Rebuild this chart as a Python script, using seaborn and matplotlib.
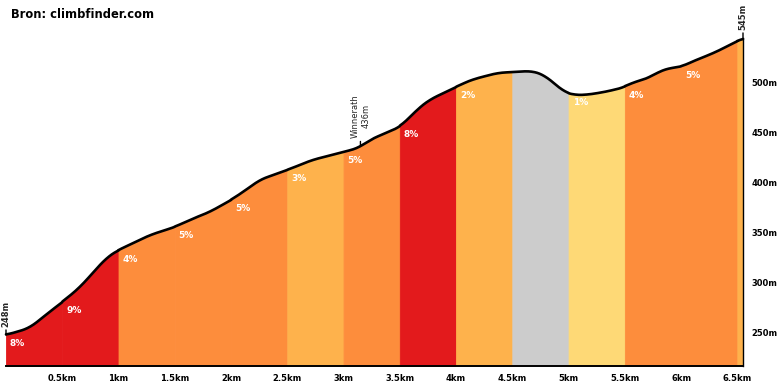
import numpy as np
import matplotlib
matplotlib.use("Agg")
import matplotlib.pyplot as plt
import seaborn as sns

########################################
# data
########################################
# elevation profile (km, m)
dist_km = [0.00, 0.21, 0.33, 0.50, 0.66, 0.77, 0.90, 1.00, 1.28, 1.50,
           1.63, 1.81, 2.00, 2.17, 2.25, 2.50, 2.72, 3.00, 3.10, 3.15,
           3.23, 3.50, 3.67, 3.76, 4.00, 4.07, 4.16, 4.30, 4.36, 4.50,
           4.65, 4.71, 4.78, 4.87, 4.96, 5.05, 5.14, 5.27, 5.40, 5.50,
           5.57, 5.67, 5.80, 5.89, 6.00, 6.07, 6.20, 6.29, 6.38, 6.50, 6.55]
elev_m = [248, 255, 266, 281, 296, 310, 326, 333, 348, 356,
          363, 371, 383, 396, 403, 413, 423, 431, 434, 436,
          443, 456, 475, 483, 496, 500, 504, 508, 510, 511,
          512, 511, 508, 500, 491, 488, 488, 490, 493, 496,
          501, 503, 511, 515, 516, 520, 526, 530, 535, 542, 545]

# half-km segments
seg_start = [0.0, 0.5, 1.0, 1.5, 2.0, 2.5, 3.0, 3.5, 4.0, 4.5, 5.0, 5.5, 6.0, 6.5]
seg_end = [0.5, 1.0, 1.5, 2.0, 2.5, 3.0, 3.5, 4.0, 4.5, 5.0, 5.5, 6.0, 6.5, 6.55]
seg_grade = ["8%", "9%", "4%", "5%", "5%", "3%", "5%", "8%", "2%", "", "1%", "4%", "5%", ""]
seg_color = ["#E31A1C", "#E31A1C", "#FD8D3C", "#FD8D3C", "#FD8D3C", "#FEB24C", "#FD8D3C",
             "#E31A1C", "#FEB24C", "#CCCCCC", "#FED976", "#FD8D3C", "#FD8D3C", "#FEB24C"]

xtick_vals = [0.5, 1, 1.5, 2, 2.5, 3, 3.5, 4, 4.5, 5, 5.5, 6, 6.5]
xtick_labels = ["0.5km", "1km", "1.5km", "2km", "2.5km", "3km", "3.5km",
                "4km", "4.5km", "5km", "5.5km", "6km", "6.5km"]
ytick_vals = [250, 300, 350, 400, 450, 500]
ytick_labels = ["250m", "300m", "350m", "400m", "450m", "500m"]

waypoint_km = 3.15
waypoint_label = "Winnerath\n436m"
start_label = "248m"
end_label = "545m"
title = "Bron: climbfinder.com"

y_bottom = 217

########################################
# dense, lightly smoothed profile
########################################
x = np.union1d(np.linspace(0, dist_km[-1], 1200), seg_start + seg_end)
y = np.interp(x, dist_km, elev_m)
k = 13
pad = np.pad(y, k, mode="edge")
y = np.convolve(pad, np.ones(2 * k + 1) / (2 * k + 1), mode="same")[k:-k]

sns.set_style("white")
plt.rcParams["font.family"] = ["DejaVu Sans"]

fig = plt.figure(figsize=(7.8, 3.9), dpi=100)
ax = fig.add_axes([6 / 780, 1 - 366 / 390, 737 / 780, 328 / 390])

# coloured segments
for s, e, g, c in zip(seg_start, seg_end, seg_grade, seg_color):
    m = (x >= s) & (x <= e)
    ax.fill_between(x[m], y_bottom, y[m], facecolor=c, edgecolor=c, lw=0.6)
    if g:
        ys = np.interp(s, x, y)
        ax.text(s + 0.035, ys - 9, g, color="white", fontsize=6.5,
                fontweight="bold", ha="left", va="center")

# profile line
sns.lineplot(x=x, y=y, color="black", lw=1.9, ax=ax, sort=False)
ax.lines[-1].set_clip_on(False)

# point labels
ann = dict(textcoords="offset points", rotation=90, ha="center", va="bottom",
           fontsize=6, fontweight="bold",
           arrowprops=dict(arrowstyle="-", lw=1, color="black", shrinkA=0, shrinkB=0))
ax.annotate(start_label, xy=(dist_km[0], elev_m[0]), xytext=(0, 6), **ann)
ax.annotate(end_label, xy=(dist_km[-1], elev_m[-1]), xytext=(0, 6), **ann)
ann["fontweight"] = "medium"
ann["multialignment"] = "center"
ax.annotate(waypoint_label, xy=(waypoint_km, np.interp(waypoint_km, x, y) + 1),
            xytext=(0, 5), **ann)

ax.set_xlim(0, dist_km[-1])
ax.set_ylim(y_bottom, elev_m[-1])
ax.set_xticks(xtick_vals)
ax.set_xticklabels(xtick_labels)
ax.yaxis.tick_right()
ax.set_yticks(ytick_vals)
ax.set_yticklabels(ytick_labels)
ax.tick_params(axis="both", length=4, width=1, color="black", labelsize=6,
               labelcolor="black", pad=2)
for lab in ax.get_xticklabels() + ax.get_yticklabels():
    lab.set_fontweight("bold")

sns.despine(ax=ax, left=True, top=True, right=False, bottom=False)
ax.spines["right"].set_color("black")
ax.spines["right"].set_linewidth(1)
ax.spines["bottom"].set_color("black")
ax.spines["bottom"].set_linewidth(1.4)
ax.set_xlabel("")
ax.set_ylabel("")

fig.text(11 / 780, 1 - 14 / 390, title, fontsize=8.3, fontweight="bold",
         ha="left", va="center", color="black")

fig.savefig("out.png", dpi=100)
